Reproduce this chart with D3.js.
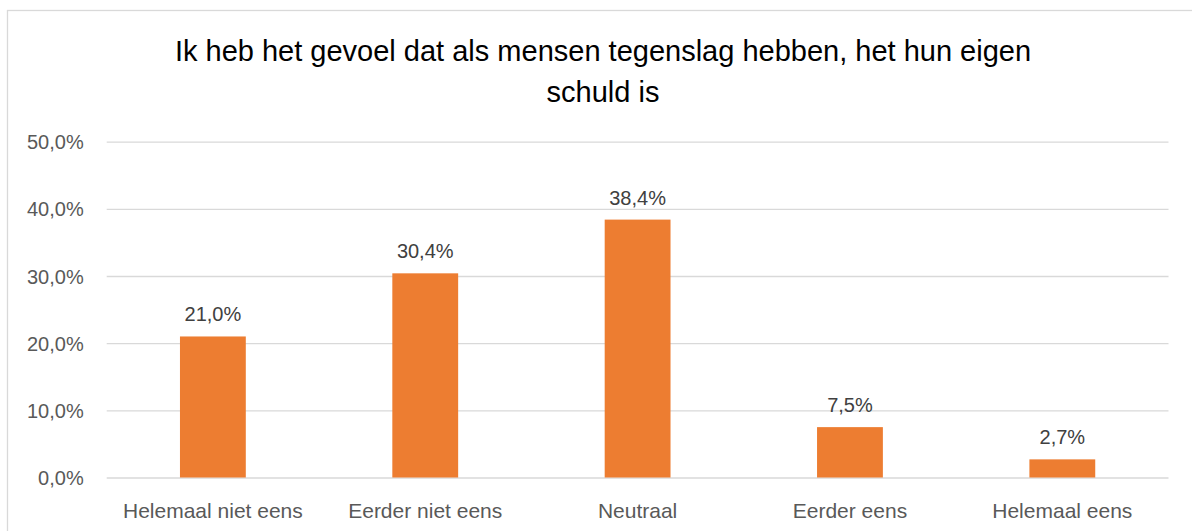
<!DOCTYPE html>
<html>
<head>
<meta charset="utf-8">
<script src="https://cdn.jsdelivr.net/npm/d3@7"></script>
<style>
  body { margin: 0; background: #fff; }
  svg { display: block; font-family: "Liberation Sans", Arial, sans-serif; }
</style>
</head>
<body>
<svg id="chart" width="1192" height="531"></svg>
<script>
const categories = ['Helemaal niet eens', 'Eerder niet eens', 'Neutraal', 'Eerder eens', 'Helemaal eens'];
const values = [21.0, 30.4, 38.4, 7.5, 2.7];
const yTicks = [0, 10, 20, 30, 40, 50];
const titleLines = ['Ik heb het gevoel dat als mensen tegenslag hebben, het hun eigen', 'schuld is'];

const fmt = v => v.toFixed(1).replace('.', ',') + '%';

function chart() {
  const svg = d3.select('#chart');
  const plot = { left: 106.7, right: 1168.5, top: 141.7, bottom: 477.5 };

  // outer frame, runs past the right and bottom edge like the screenshot
  svg.append('rect')
    .attr('x', 7.5).attr('y', 10.5)
    .attr('width', 1200).attr('height', 540)
    .attr('fill', '#fff')
    .attr('stroke', '#d9d9d9')
    .attr('stroke-width', 1.3);

  const x = d3.scaleBand()
    .domain(categories)
    .range([plot.left, plot.right])
    .paddingInner(0.69)
    .paddingOuter(0.345);

  const y = d3.scaleLinear()
    .domain([0, 50])
    .range([plot.bottom, plot.top]);

  // gridlines + tick labels
  const yAxis = d3.axisLeft(y)
    .tickValues(yTicks)
    .tickSize(-(plot.right - plot.left))
    .tickPadding(23)
    .tickFormat(fmt);

  const ga = svg.append('g')
    .attr('transform', `translate(${plot.left},0)`)
    .call(yAxis);
  ga.select('.domain').remove();
  ga.selectAll('.tick line').attr('stroke', '#d9d9d9').attr('stroke-width', 1.3);
  ga.selectAll('.tick text')
    .attr('fill', '#595959')
    .style('font-size', '20px')
    .attr('dy', '0.35em');

  // bars
  svg.append('g').selectAll('rect')
    .data(values)
    .join('rect')
    .attr('x', (d, i) => x(categories[i]))
    .attr('y', d => y(d))
    .attr('width', x.bandwidth())
    .attr('height', d => y(0) - y(d))
    .attr('fill', '#ED7D31');

  // data labels
  svg.append('g').selectAll('text')
    .data(values)
    .join('text')
    .attr('x', (d, i) => x(categories[i]) + x.bandwidth() / 2)
    .attr('y', d => y(d) - 15)
    .attr('text-anchor', 'middle')
    .attr('fill', '#404040')
    .style('font-size', '20px')
    .text(fmt);

  // category labels
  const xAxis = d3.axisBottom(x).tickSize(0).tickPadding(0);
  const gx = svg.append('g')
    .attr('transform', `translate(0,${plot.bottom})`)
    .call(xAxis);
  gx.select('.domain').remove();
  gx.selectAll('.tick text')
    .attr('dy', 0)
    .attr('y', 40)
    .attr('fill', '#595959')
    .style('font-size', '21px');

  // title
  svg.append('text')
    .attr('text-anchor', 'middle')
    .attr('fill', '#000')
    .style('font-size', '29px')
    .selectAll('tspan')
    .data(titleLines)
    .join('tspan')
    .attr('x', 603)
    .attr('y', (d, i) => 61 + i * 41)
    .text(d => d);
}

chart();
</script>
</body>
</html>
